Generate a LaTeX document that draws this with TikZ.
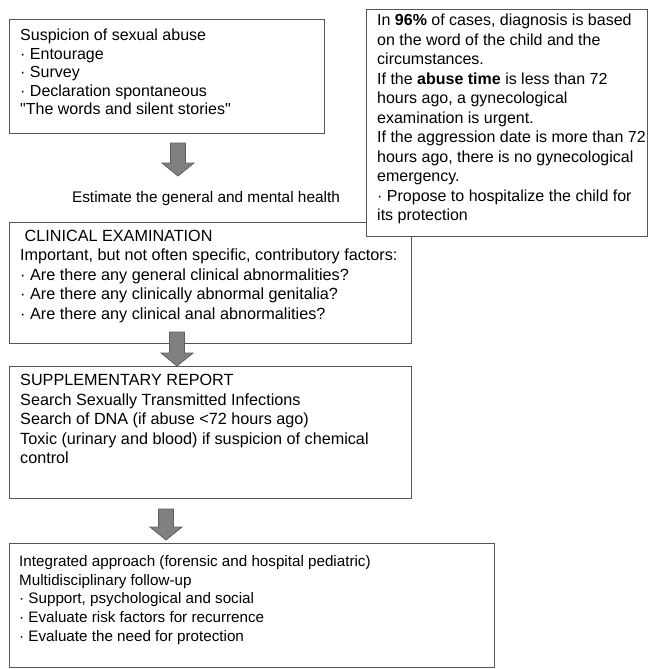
\documentclass[tikz,border=0pt]{standalone}
\usepackage{fontspec}
\setmainfont{Liberation Sans}
\usetikzlibrary{positioning,calc}

\definecolor{boxline}{RGB}{85,85,85}
\definecolor{arrowfill}{RGB}{128,128,128}
\definecolor{arrowline}{RGB}{95,95,95}

\tikzset{
  stepbox/.style={draw=boxline, line width=1pt, fill=white, inner sep=0pt, anchor=north west},
  boxtext/.style={anchor=north west, inner sep=0pt, align=left, font=\fontsize{16}{19.5}\selectfont},
  blockarrow/.style={fill=arrowfill, draw=arrowline, line width=0.8pt, line join=miter},
}

\begin{document}
\begin{tikzpicture}[x=1pt,y=-1pt]
  \useasboundingbox (0,0) rectangle (648,669);
  % Box: suspicion
  \node[stepbox, minimum width=315pt, minimum height=114pt] (suspicion) at (9,19) {};
  \node[boxtext, font=\fontsize{16}{18.5}\selectfont] (suspiciontext) at (20,29)
    {Suspicion of sexual abuse\\
     · Entourage\\
     · Survey\\
     · Declaration spontaneous\\
     \textquotedbl The words and silent stories\textquotedbl};
  % Arrow: suspicion -> clinical
  \coordinate (arrowone) at (178,143);
  \draw[blockarrow] (arrowone) ++(-7.5,0) -- ++(15,0) -- ++(0,20) -- ++(8.5,0) -- ++(-16,13) -- ++(-16,-13) -- ++(8.5,0) -- cycle;
  \node[inner sep=0pt, font=\fontsize{15.4}{19}\selectfont] (health) at (206,199) {Estimate the general and mental health};
  % Box: clinical examination
  \node[stepbox, minimum width=402pt, minimum height=121pt] (clinical) at (9,222) {};
  \node[boxtext, font=\fontsize{16.2}{19.4}\selectfont] (clinicaltext) at (20,230)
    {\hspace{4.5pt}CLINICAL EXAMINATION\\
     Important, but not often specific, contributory factors:\\
     · Are there any general clinical abnormalities?\\
     · Are there any clinically abnormal genitalia?\\
     · Are there any clinical anal abnormalities?};
  % Box: diagnosis note (over the clinical box)
  \node[stepbox, minimum width=281pt, minimum height=227pt] (diagnosis) at (366,9) {};
  \node[boxtext] (diagnosistext) at (377,14)
    {In \textbf{96\%} of cases, diagnosis is based\\
     on the word of the child and the\\
     circumstances.\\
     If the \textbf{abuse time} is less than 72\\
     hours ago, a gynecological\\
     examination is urgent.\\
     If the aggression date is more than 72\\
     hours ago, there is no gynecological\\
     emergency.\\
     · Propose to hospitalize the child for\\
     its protection};
  % Arrow: clinical -> supplementary
  \coordinate (arrowtwo) at (177,332);
  \draw[blockarrow] (arrowtwo) ++(-7.5,0) -- ++(15,0) -- ++(0,21) -- ++(8.5,0) -- ++(-16,13) -- ++(-16,-13) -- ++(8.5,0) -- cycle;
  % Box: supplementary report
  \node[stepbox, minimum width=402pt, minimum height=132pt] (supplementary) at (9,366) {};
  \node[boxtext, font=\fontsize{16.2}{19.5}\selectfont] (supplementarytext) at (20,374)
    {SUPPLEMENTARY REPORT\\
     Search Sexually Transmitted Infections\\
     Search of DNA (if abuse <72 hours ago)\\
     Toxic (urinary and blood) if suspicion of chemical\\
     control};
  % Arrow: supplementary -> follow-up
  \coordinate (arrowthree) at (166,509);
  \draw[blockarrow] (arrowthree) ++(-7.5,0) -- ++(15,0) -- ++(0,18) -- ++(8.5,0) -- ++(-16,13) -- ++(-16,-13) -- ++(8.5,0) -- cycle;
  % Box: follow-up
  \node[stepbox, minimum width=485pt, minimum height=124pt] (followup) at (9,543) {};
  \node[boxtext, font=\fontsize{15.2}{18.8}\selectfont] (followuptext) at (19,555)
    {Integrated approach (forensic and hospital pediatric)\\
     Multidisciplinary follow-up\\
     · Support, psychological and social\\
     · Evaluate risk factors for recurrence\\
     · Evaluate the need for protection};
\end{tikzpicture}
\end{document}
